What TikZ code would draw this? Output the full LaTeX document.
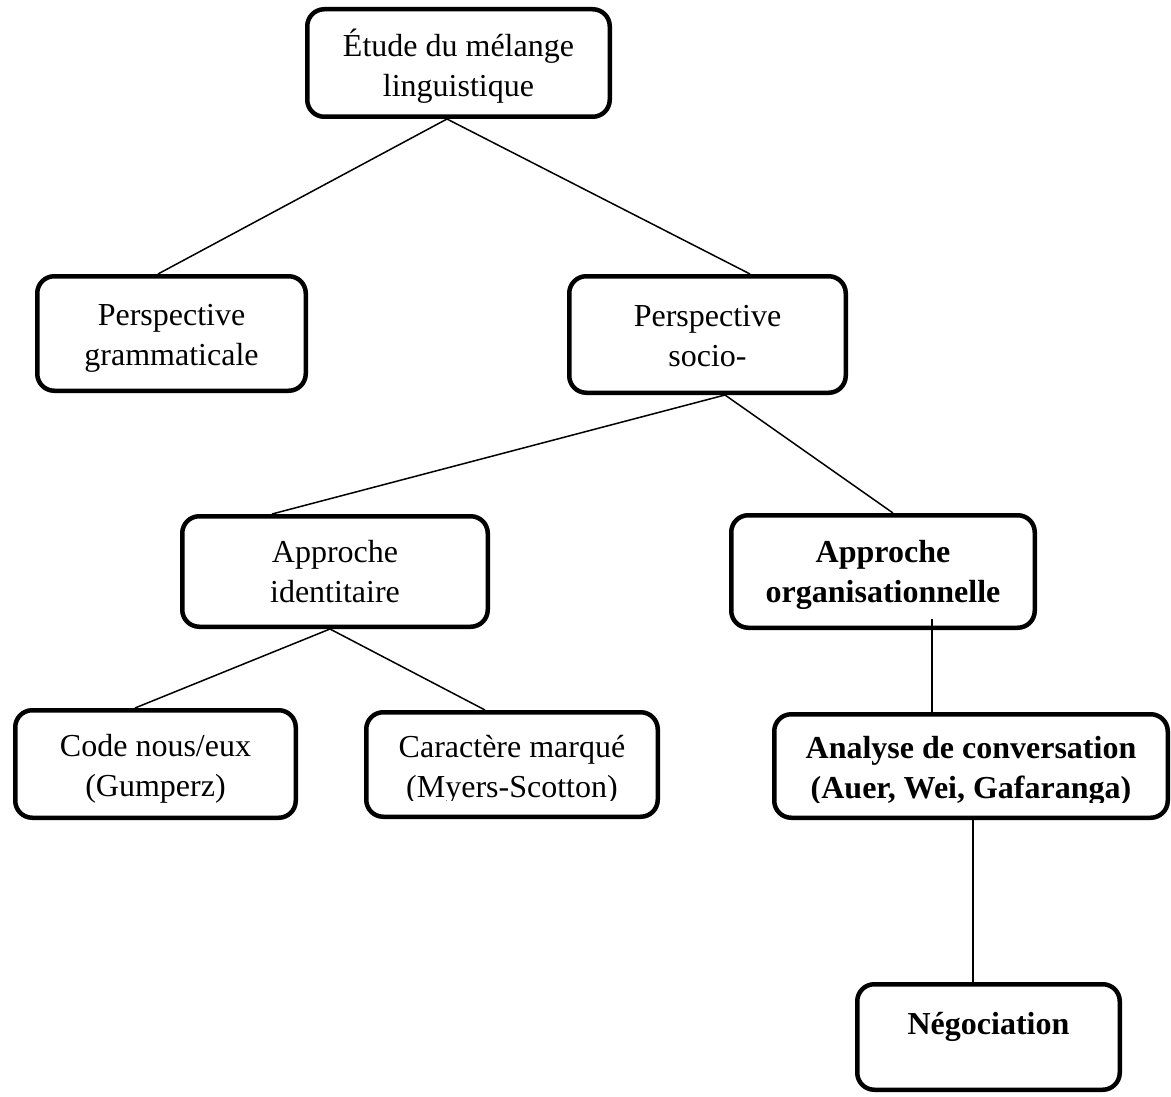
\documentclass[tikz,border=0pt]{standalone}
\usepackage{fontspec}
\setmainfont{Liberation Serif}
\begin{document}
\begin{tikzpicture}[x=1pt,y=-1pt,
  box/.style={draw, line width=4.5pt, rounded corners=17pt, inner sep=0pt},
  txt/.style={align=center, inner sep=0pt, font=\fontsize{32}{40}\selectfont},
  boldtxt/.style={txt, font=\fontsize{32}{40}\selectfont\bfseries},
  link/.style={line width=1.5pt}]
\useasboundingbox (0,0) rectangle (1171,1097);
% boxes
\node[box, minimum width=302.5pt, minimum height=107.5pt] (etude) at (458.5,63) {};
\node[box, minimum width=268.5pt, minimum height=114.5pt] (gram) at (171.5,333.5) {};
\node[box, minimum width=276.5pt, minimum height=116.5pt] (socio) at (707.5,334.5) {};
\node[box, minimum width=305.5pt, minimum height=110.5pt] (ident) at (335,571.5) {};
\node[box, minimum width=303.5pt, minimum height=112.5pt] (orga) at (883,571.5) {};
\node[box, minimum width=280.5pt, minimum height=107.5pt] (code) at (155.5,764) {};
\node[box, minimum width=291.5pt, minimum height=104.5pt] (carac) at (512,764.5) {};
\node[box, minimum width=393.5pt, minimum height=103.5pt] (analyse) at (971,766) {};
\node[box, minimum width=262.5pt, minimum height=105.5pt] (nego) at (988.5,1037) {};
% texts
\node[txt] (etudet) at ([yshift=-3pt]etude.center) {Étude du mélange\\linguistique};
\node[txt] (gramt) at ([yshift=-5pt]gram.center) {Perspective\\grammaticale};
\node[txt] (sociot) at ([yshift=-2pt]socio.center) {Perspective\\socio-};
\node[txt] (identt) at ([yshift=0pt]ident.center) {Approche\\identitaire};
\node[boldtxt] (orgat) at ([yshift=-3pt]orga.center) {Approche\\organisationnelle};
\node[txt] (codet) at ([yshift=-5pt]code.center) {Code nous/eux\\(Gumperz)};
\begin{scope}
\clip (360,700) rectangle (665,800);
\node[txt] (caract) at ([yshift=-5pt]carac.center) {Caractère marqué\\(Myers-Scotton)};
\end{scope}
\begin{scope}
\clip (770,700) rectangle (1171,802);
\node[boldtxt] (analyset) at ([yshift=-5pt]analyse.center) {Analyse de conversation\\(Auer, Wei, Gafaranga)};
\end{scope}
\node[boldtxt] (negot) at ([yshift=10pt]nego.center) {Négociation};
% connectors
\draw[link] ([xshift=-11.5pt]etude.south) -- ([xshift=-13.5pt]gram.north);
\draw[link] ([xshift=-11.5pt]etude.south) -- ([xshift=42.5pt]socio.north);
\draw[link] ([xshift=17.5pt]socio.south) -- ([xshift=-63pt]ident.north);
\draw[link] ([xshift=17.5pt]socio.south) -- ([xshift=10pt]orga.north);
\draw[link] ([xshift=-5pt]ident.south) -- ([xshift=-20.5pt]code.north);
\draw[link] ([xshift=-5pt]ident.south) -- ([xshift=-27pt]carac.north);
\draw[link] ([xshift=49pt,yshift=11pt]orga.south) -- ([xshift=-39pt]analyse.north);
\draw[link] ([xshift=2pt]analyse.south) -- ([xshift=-15.5pt]nego.north);
\end{tikzpicture}
\end{document}
